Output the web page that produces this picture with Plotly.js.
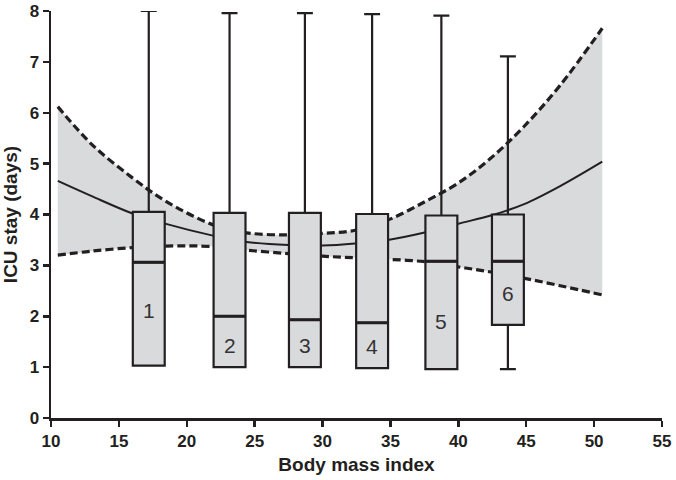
<!DOCTYPE html>
<html>
<head>
<meta charset="utf-8">
<script src="https://cdn.plot.ly/plotly-3.0.1.min.js"></script>
<style>html,body{margin:0;padding:0;background:#fff}#chart{width:676px;height:480px}</style>
</head>
<body>
<div id="chart"></div>
<script>
// Fitted curve with confidence band
const curveBMI  = [10.5, 13, 16, 18.4, 22, 24.4, 27.5, 30, 32.4, 34.8, 37.6, 40, 42.4, 44.8, 47.5, 50.6];
const upperCI   = [6.12, 5.38, 4.72, 4.27, 3.79, 3.64, 3.60, 3.63, 3.69, 3.89, 4.26, 4.62, 5.11, 5.72, 6.54, 7.66];
const fitted    = [4.66, 4.36, 4.02, 3.82, 3.58, 3.46, 3.40, 3.39, 3.43, 3.50, 3.65, 3.82, 3.98, 4.20, 4.56, 5.04];
const lowerCI   = [3.20, 3.28, 3.35, 3.38, 3.37, 3.30, 3.23, 3.18, 3.15, 3.12, 3.07, 2.97, 2.87, 2.75, 2.60, 2.42];

// Box plots per BMI group
const groupLabels = ["1", "2", "3", "4", "5", "6"];
const groupBMI    = [17.2, 23.15, 28.7, 33.65, 38.75, 43.65];
const boxMin      = [1.03, 1.0, 1.0, 0.98, 0.96, 0.96];
const boxQ1       = [1.03, 1.0, 1.0, 0.98, 0.96, 1.83];
const boxMedian   = [3.06, 2.0, 1.93, 1.87, 3.08, 3.08];
const boxQ3       = [4.05, 4.03, 4.03, 4.01, 3.98, 4.0];
const boxMax      = [8.0, 7.96, 7.96, 7.94, 7.91, 7.11];
const labelY      = [2.12, 1.43, 1.43, 1.40, 1.89, 2.45];

const dark = "#231f20";
const grey = "#d9dadc";
const boxWidth = 2.35;

const traces = [
  {x: curveBMI, y: lowerCI, type: "scatter", mode: "lines", line: {color: dark, width: 3.2, dash: "8px,4px", shape: "spline"}, hoverinfo: "skip"},
  {x: curveBMI, y: upperCI, type: "scatter", mode: "lines", fill: "tonexty", fillcolor: grey, line: {color: dark, width: 3.2, dash: "8px,4px", shape: "spline"}, hoverinfo: "skip"},
  {x: curveBMI, y: fitted, type: "scatter", mode: "lines", line: {color: dark, width: 2, shape: "spline"}, hoverinfo: "skip"},
  {
    type: "box", xaxis: "x2", yaxis: "y2",
    x: groupBMI, q1: boxQ1, median: boxMedian, q3: boxQ3,
    lowerfence: boxMin, upperfence: boxMax,
    width: boxWidth, whiskerwidth: 0.5,
    fillcolor: grey, line: {color: dark, width: 2.2},
    boxpoints: false, hoverinfo: "skip"
  }
];

// thicker median bars drawn over each box, from the same data
const medX = [], medY = [];
groupBMI.forEach((g, i) => {
  medX.push(g - boxWidth / 2, g + boxWidth / 2, null);
  medY.push(boxMedian[i], boxMedian[i], null);
});
traces.push({x: medX, y: medY, xaxis: "x2", yaxis: "y2", type: "scatter", mode: "lines", line: {color: dark, width: 3}, hoverinfo: "skip"});

const annotations = groupLabels.map((t, i) => ({
  x: groupBMI[i], y: labelY[i], xref: "x2", yref: "y2", text: t, showarrow: false,
  font: {family: "Liberation Sans, Arial, sans-serif", size: 21, color: "#333"}
}));

const axisCommon = {
  showgrid: false, zeroline: false, showline: true, linecolor: dark, linewidth: 2.5,
  ticks: "outside", ticklen: 6, tickwidth: 2.5, tickcolor: dark,
  tickfont: {family: "Liberation Sans, Arial, sans-serif", size: 17, color: dark, weight: "bold"},
  automargin: false, fixedrange: true
};

const layout = {
  width: 676, height: 480,
  margin: {l: 51, r: 14, t: 11, b: 62},
  paper_bgcolor: "#fff", plot_bgcolor: "#fff",
  showlegend: false,
  xaxis: Object.assign({}, axisCommon, {
    range: [10, 55], tickvals: [10, 15, 20, 25, 30, 35, 40, 45, 50, 55],
    title: {text: "Body mass index", standoff: 8, font: {family: "Liberation Sans, Arial, sans-serif", size: 19, color: dark, weight: "bold"}}
  }),
  yaxis: Object.assign({}, axisCommon, {
    range: [0, 8], tickvals: [0, 1, 2, 3, 4, 5, 6, 7, 8],
    title: {text: "ICU stay (days)", standoff: 10, font: {family: "Liberation Sans, Arial, sans-serif", size: 19, color: dark, weight: "bold"}}
  }),
  xaxis2: {range: [10, 55], overlaying: "x", visible: false, fixedrange: true},
  yaxis2: {range: [0, 8], overlaying: "y", visible: false, fixedrange: true},
  annotations: annotations
};

Plotly.newPlot("chart", traces, layout, {displayModeBar: false, staticPlot: true});
</script>
</body>
</html>
